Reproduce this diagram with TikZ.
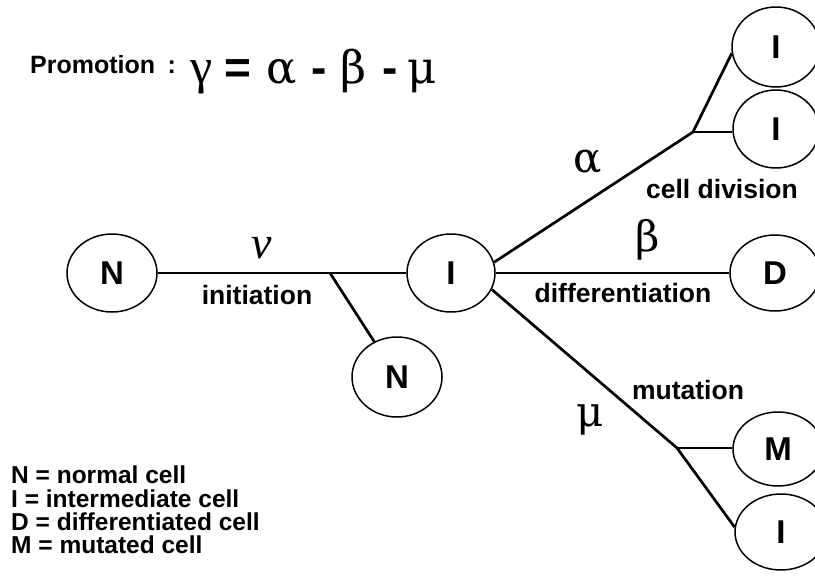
\documentclass[tikz,border=0pt]{standalone}
\usepackage{fontspec}
\setmainfont{Liberation Sans}
\newfontfamily\grk{DejaVu Serif}
\newfontfamily\grkb{Liberation Serif}
\usetikzlibrary{shapes.geometric}
\begin{document}
\begin{tikzpicture}[x=1pt,y=-1pt,
  cell/.style={ellipse,draw,line width=1.5pt,inner sep=0pt,minimum width=90pt,minimum height=78pt,font=\bfseries\fontsize{33}{33}\selectfont},
  conn/.style={line width=2.7pt,line join=round},
  lbl/.style={font=\bfseries\fontsize{26.5}{26.5}\selectfont,inner sep=0pt},
  grl/.style={font=\grk\fontsize{42}{42}\selectfont,inner sep=0pt},
  eqg/.style={font=\grk\fontsize{45}{45}\selectfont,inner sep=0pt,anchor=base},
  eqs/.style={font=\bfseries\fontsize{46}{46}\selectfont,inner sep=0pt,anchor=base},
  leg/.style={font=\bfseries\fontsize{24.5}{24.5}\selectfont,inner sep=0pt,anchor=base west}]
\fill[white] (0,0) rectangle (815,576);
\useasboundingbox (0,0) rectangle (815,576);

% cells
\node[cell] (N1) at (112,273) {N};
\node[cell,minimum width=88pt] (I0) at (451,273) {I};
\node[cell,minimum height=80pt] (N2) at (397,377) {N};
\node[cell,minimum width=88pt,minimum height=80pt] (Ia) at (776,47) {I};
\node[cell,minimum width=86pt] (Ib) at (776,129) {I};
\node[cell,minimum height=76pt] (D) at (775,273) {D};
\node[cell,minimum height=74pt] (M) at (778,449) {M};
\node[cell,minimum width=92pt,minimum height=76pt] (Ic) at (781,532) {I};

% junctions
\coordinate (j1) at (330,273);
\coordinate (ja) at (693,132);
\coordinate (jm) at (677,448);

% connectors
\draw[conn] (N1.east) -- (I0.west);
\draw[conn] (j1) -- (N2);
\draw[conn] (I0.14) -- (ja) -- (Ia.188);
\draw[conn] (ja) -- (ja -| Ib.west);
\draw[conn] (I0.east) -- (D.west);
\draw[conn] (I0.-22) -- (jm) -- (Ic.174);
\draw[conn] (jm) -- (jm -| M.west);

% labels
\node[grl,font=\grkb\itshape\fontsize{46}{46}\selectfont] (nu) at (262,248) {ν};
\node[lbl] (init) at (257,295) {initiation};
\node[grl] (al) at (588,162) {α};
\node[lbl] (cd) at (722,189) {cell division};
\node[grl] (be) at (648,240) {β};
\node[lbl] (diff) at (623,293) {differentiation};
\node[lbl] (mut) at (688,390) {mutation};
\node[grl] (mu) at (590,420) {μ};

% promotion equation
\node[font=\bfseries\fontsize{25}{25}\selectfont,inner sep=0pt,anchor=base west] (prom) at (30,73) {Promotion\hspace{0.5em}:};
\node[eqg,font=\grkb\fontsize{50}{50}\selectfont] (e1) at (202,83) {γ};
\node[eqs] (e2) at (238,83) {=};
\node[eqg] (e3) at (282,83) {α};
\node[eqs] (e4) at (319,83) {-};
\node[eqg] (e5) at (354,83) {β};
\node[eqs] (e6) at (390,83) {-};
\node[eqg] (e7) at (422,83) {μ};

% legend
\node[leg] (l1) at (11,483) {N = normal cell};
\node[leg] (l2) at (11,507) {I = intermediate cell};
\node[leg] (l3) at (11,530) {D = differentiated cell};
\node[leg] (l4) at (11,553) {M = mutated cell};
\end{tikzpicture}
\end{document}
